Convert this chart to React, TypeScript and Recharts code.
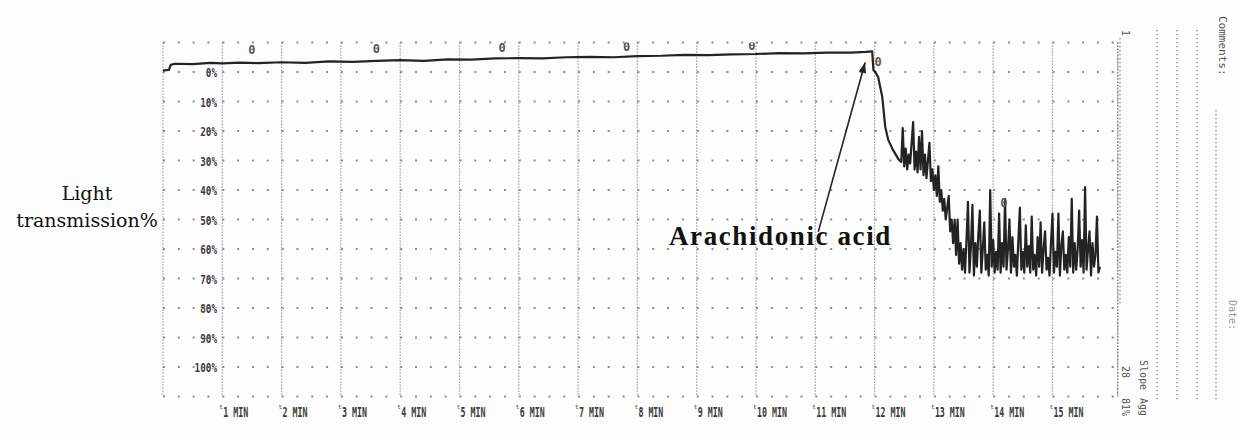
import {
  ComposedChart,
  Line,
  Scatter,
  XAxis,
  YAxis,
  CartesianGrid,
  ReferenceLine,
} from "recharts";

// aggregometer trace: time in minutes, aggregation in % (0 = top of the strip)
const BASELINE: [number, number][] = [
  [0, -0.5], [0.1, -0.7], [0.13, -2.4], [0.2, -2.8], [0.5, -2.7], [0.8, -3.1],
  [1.0, -2.9], [1.3, -3.2], [1.6, -3.0], [2.0, -3.3], [2.4, -3.1], [2.8, -3.6],
  [3.2, -3.4], [3.6, -3.8], [4.0, -4.0], [4.4, -3.8], [4.8, -4.3], [5.2, -4.2],
  [5.6, -4.6], [6.0, -4.7], [6.4, -4.6], [6.8, -5.0], [7.2, -5.1], [7.6, -5.0],
  [8.0, -5.4], [8.4, -5.5], [8.8, -5.8], [9.2, -5.7], [9.6, -6.0], [10.0, -6.1],
  [10.4, -6.4], [10.8, -6.3], [11.2, -6.6], [11.6, -6.6], [11.855, -6.8],
];

// addition of arachidonic acid and the first fall
const DROP: [number, number][] = [
  [11.96, -7.0], [11.98, -0.7], [12.01, 0], [12.06, 1.7], [12.13, 8.5],
  [12.18, 18.6], [12.23, 23], [12.31, 26.4], [12.41, 29.8], [12.45, 30.5],
];

// oscillating part of the record, one reading per sample
const NOISE_START = 12.475;
const NOISE_STEP = 0.025;
const NOISE_V = [
  19, 32, 26, 33, 28, 31, 24, 17, 33, 27, 34, 22, 33, 20, 35, 28, 36, 30, 24, 37,
  33, 40, 35, 42, 32, 44, 40, 47, 43, 50, 46, 42, 54, 50, 58, 50, 62, 50, 65, 58,
  67, 60, 68, 57, 44, 68, 59, 45, 69, 58, 66, 55, 47, 68, 60, 51, 67, 62, 69, 40,
  66, 57, 68, 61, 67, 48, 68, 58, 66, 43, 67, 60, 50, 68, 56, 66, 62, 69, 57, 46,
  67, 61, 68, 52, 66, 59, 68, 49, 67, 62, 69, 56, 66, 51, 68, 60, 54, 67, 63, 69,
  58, 48, 68, 61, 66, 48, 69, 59, 54, 67, 62, 68, 56, 66, 43, 68, 58, 67, 60, 47,
  66, 57, 68, 39, 67, 60, 54, 69, 58, 66, 62, 49, 68, 66,
];

// event marks printed by the recorder
const MARKS: [number, number][] = [
  [1.5, -7.6], [3.6, -7.8], [5.72, -8.0], [7.82, -8.4], [9.93, -8.8],
  [12.06, -3.4], [14.18, 44.4],
];

const MINUTES = [0, 1, 2, 3, 4, 5, 6, 7, 8, 9, 10, 11, 12, 13, 14, 15];
const PERCENT = [-10, 0, 10, 20, 30, 40, 50, 60, 70, 80, 90, 100, 110];

const trace = [
  ...BASELINE.map(([t, v]) => ({ t, v })),
  ...DROP.map(([t, v]) => ({ t, v })),
  ...NOISE_V.map((v, i) => ({ t: NOISE_START + i * NOISE_STEP, v })),
];
const marks = MARKS.map(([t, v]) => ({ t, v }));

const INK = "#232323";
const DOT = "#8c8c8c";
const PRINT = "'DejaVu Sans Mono', monospace";

const XTick = (props: any) => {
  const { x, y, payload } = props;
  if (payload.value === 0) return null;
  const s = `${payload.value} MIN`;
  return (
    <g>
      <text x={x - 3} y={y + 4} fontSize={6} fill="#444" fontFamily={PRINT}>
        t
      </text>
      <text
        x={x + 1}
        y={y + 12}
        fontSize={14}
        fontWeight="bold"
        fill="#3a3a3a"
        fontFamily={PRINT}
        textLength={s.length * 5}
        lengthAdjust="spacingAndGlyphs"
      >
        {s}
      </text>
    </g>
  );
};

const YTick = (props: any) => {
  const { y, payload } = props;
  if (payload.value < 0 || payload.value > 100) return null;
  const s = `${payload.value}%`;
  return (
    <text
      x={217}
      y={y + 5}
      textAnchor="end"
      fontSize={13}
      fontWeight="bold"
      fill="#3d3d3d"
      fontFamily={PRINT}
      textLength={s.length * 5.6}
      lengthAdjust="spacingAndGlyphs"
    >
      {s}
    </text>
  );
};

const Mark = (props: any) => {
  const { cx, cy } = props;
  return (
    <text x={cx} y={cy + 4} textAnchor="middle" fontSize={12} fontWeight="bold" fill="#555" fontFamily={PRINT}>
      0
    </text>
  );
};

const Arrow = (props: any) => {
  const { x1, y1, x2, y2 } = props;
  const a = Math.atan2(y2 - y1, x2 - x1);
  const L = 11;
  const w = 0.35;
  const p1 = [x2 - L * Math.cos(a - w), y2 - L * Math.sin(a - w)];
  const p2 = [x2 - L * Math.cos(a + w), y2 - L * Math.sin(a + w)];
  return (
    <g>
      <line x1={x1} y1={y1} x2={x2} y2={y2} stroke="#222" strokeWidth={1.6} />
      <polygon points={`${x2},${y2} ${p1[0]},${p1[1]} ${p2[0]},${p2[1]}`} fill="#222" />
    </g>
  );
};

function FormMargin() {
  const col = { stroke: "#777", strokeWidth: 1.3, strokeDasharray: "1.3 2.7" };
  const txt = { fontFamily: PRINT, fontSize: 10, fill: "#555" };
  return (
    <svg
      width={1239}
      height={439}
      style={{ position: "absolute", left: 0, top: 0, pointerEvents: "none" }}
    >
      <line x1={1120} y1={38} x2={1120} y2={305} {...col} />
      <text {...txt} transform="translate(1122,30) rotate(90)">1</text>
      <line x1={1157} y1={30} x2={1157} y2={402} {...col} />
      <line x1={1177} y1={30} x2={1177} y2={402} {...col} />
      <line x1={1197} y1={30} x2={1197} y2={402} {...col} />
      <line x1={1216} y1={110} x2={1216} y2={402} {...col} />
      <text {...txt} fontSize={11} transform="translate(1219,16) rotate(90)">Comments:</text>
      <text {...txt} transform="translate(1140,360) rotate(90)">Slope</text>
      <text {...txt} transform="translate(1140,398) rotate(90)">Agg</text>
      <text {...txt} transform="translate(1122,366) rotate(90)">28</text>
      <text {...txt} transform="translate(1122,398) rotate(90)">81%</text>
      <text {...txt} fill="#999" transform="translate(1229,300) rotate(90)">Date:</text>
    </svg>
  );
}

export default function App() {
  return (
    <div
      style={{
        position: "absolute",
        left: 0,
        top: 0,
        width: 1239,
        height: 439,
        background: "#fdfdfd",
        overflow: "hidden",
      }}
    >
      <ComposedChart
        width={1239}
        height={439}
        data={trace}
        margin={{ top: 42.5, right: 121.3, bottom: 12.5, left: 153 }}
      >
        <CartesianGrid
          vertical={false}
          stroke={DOT}
          strokeWidth={2}
          strokeDasharray="2 12.825"
        />
        <CartesianGrid horizontal={false} stroke={DOT} strokeWidth={1.2} strokeDasharray="1.2 1.8" />
        <XAxis
          dataKey="t"
          type="number"
          domain={[0, 16.1]}
          ticks={MINUTES}
          interval={0}
          axisLine={false}
          tickLine={false}
          height={30}
          tick={<XTick />}
          allowDataOverflow
        />
        <YAxis
          type="number"
          reversed
          domain={[-10, 110]}
          ticks={PERCENT}
          interval={0}
          width={10}
          axisLine={false}
          tickLine={false}
          tick={<YTick />}
          allowDataOverflow
        />
        <ReferenceLine x={16.1} stroke="#777" strokeWidth={1.3} strokeDasharray="1.3 2" />
        <ReferenceLine
          segment={[
            { x: 11.05, y: 54.2 },
            { x: 11.84, y: -3.2 },
          ]}
          shape={<Arrow />}
        />
        <Line
          dataKey="v"
          stroke={INK}
          strokeWidth={2.2}
          strokeLinejoin="round"
          dot={false}
          isAnimationActive={false}
          type="linear"
        />
        <Scatter data={marks} dataKey="v" shape={<Mark />} isAnimationActive={false} />
      </ComposedChart>

      <div
        style={{
          position: "absolute",
          left: 0,
          top: 180,
          width: 174,
          textAlign: "center",
          fontFamily: "'DejaVu Serif', serif",
          fontSize: 19,
          lineHeight: "27px",
          color: "#111",
        }}
      >
        Light
        <br />
        transmission%
      </div>
      <div
        style={{
          position: "absolute",
          left: 669,
          top: 221,
          fontFamily: "'Liberation Serif', serif",
          fontWeight: "bold",
          fontSize: 27,
          letterSpacing: 1.6,
          color: "#111",
          whiteSpace: "nowrap",
        }}
      >
        Arachidonic acid
      </div>
      <FormMargin />
    </div>
  );
}
